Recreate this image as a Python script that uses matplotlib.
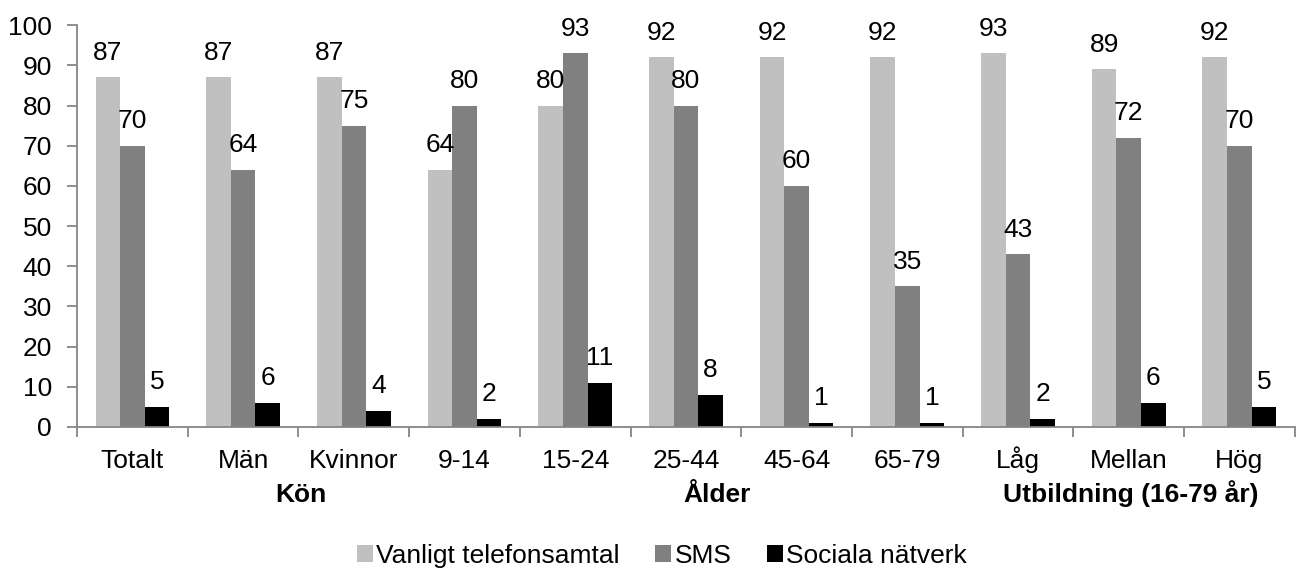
import matplotlib.pyplot as plt
import numpy as np
from matplotlib.patches import Patch
from matplotlib.transforms import blended_transform_factory

plt.rcParams['font.family'] = ['Liberation Sans', 'DejaVu Sans']

categories = ['Totalt', 'Män', 'Kvinnor', '9-14', '15-24', '25-44',
              '45-64', '65-79', 'Låg', 'Mellan', 'Hög']
series_names = ['Vanligt telefonsamtal', 'SMS', 'Sociala nätverk']
vanligt = [87, 87, 87, 64, 80, 92, 92, 92, 93, 89, 92]
sms = [70, 64, 75, 80, 93, 80, 60, 35, 43, 72, 70]
sociala = [5, 6, 4, 2, 11, 8, 1, 1, 2, 6, 5]

# group captions below the category labels (text, x in category units)
groups = [('Kön', 1.52), ('Ålder', 5.28), ('Utbildning (16-79 år)', 9.02)]

colors = ['#c0c0c0', '#808080', '#000000']
axis_gray = '#868686'
fs = 19

fig = plt.figure(figsize=(12.96, 5.72), dpi=100)
ax = fig.add_axes([0.0595, 0.2535, 0.9395, 0.7025])

x = np.arange(len(categories))
w = 0.222
for i, (vals, col) in enumerate(zip([vanligt, sms, sociala], colors)):
    pos = x + (i - 1) * w
    ax.bar(pos, vals, width=w, color=col, edgecolor='none')
    for px, v in zip(pos, vals):
        ax.annotate(str(v), (px, v), xytext=(0, 12.7), textcoords='offset points',
                    ha='center', va='baseline', fontsize=fs)

ax.set_xlim(-0.5, len(categories) - 0.5)
ax.set_ylim(0, 100)
ax.set_yticks(range(0, 101, 10))
ax.tick_params(axis='y', labelsize=fs, length=7, width=1.3, color=axis_gray, pad=11)

ax.set_xticks(x)
ax.set_xticklabels(categories)
ax.tick_params(axis='x', which='major', length=0, labelsize=fs, pad=29.5)
for lab in ax.get_xticklabels():
    lab.set_verticalalignment('baseline')
ax.set_xticks(np.arange(-0.5, len(categories), 1), minor=True)
ax.tick_params(axis='x', which='minor', length=7, width=1.3, color=axis_gray)

for s in ['top', 'right']:
    ax.spines[s].set_visible(False)
for s in ['left', 'bottom']:
    ax.spines[s].set_color(axis_gray)
    ax.spines[s].set_linewidth(1.3)

trans = blended_transform_factory(ax.transData, fig.transFigure)
for label, gx in groups:
    ax.text(gx, 1 - 502 / 572, label, transform=trans, ha='center', va='baseline',
            fontsize=fs, fontweight='bold')

handles = [Patch(facecolor=c, edgecolor='none') for c in colors]
fig.legend(handles, series_names, loc='center', ncol=3, frameon=False,
           bbox_to_anchor=(662 / 1296, 1 - 556 / 572), fontsize=fs,
           handlelength=0.6, handleheight=0.6, handletextpad=0.12,
           columnspacing=1.36, borderpad=0)

fig.savefig('out.png', dpi=100)
